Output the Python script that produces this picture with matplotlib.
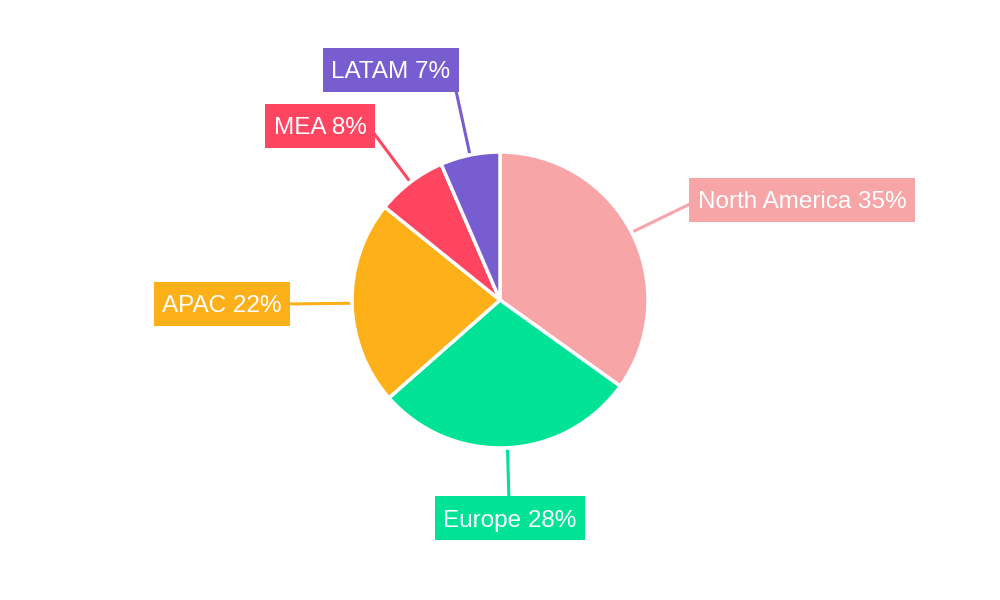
import numpy as np
import matplotlib.pyplot as plt
from matplotlib.path import Path
from matplotlib.transforms import Affine2D

plt.rcParams['font.family'] = ['Liberation Sans', 'DejaVu Sans']

regions = ['North America', 'Europe', 'APAC', 'MEA', 'LATAM']
shares = [34.9, 28.6, 22.3, 7.7, 6.5]      # slice sizes as measured
label_pct = [35, 28, 22, 8, 7]              # percentages printed on labels
colors = ['#F8A5A8', '#00E396', '#FEB019', '#FF4560', '#775DD0']

# label box centres and leader-line end points, in pixels (x, y from top)
label_pos = [(802, 200), (510, 518), (222, 304), (320, 126), (391, 70)]
leader_end = [(694, 202), (509, 502), (284, 304), (370, 128), (455, 86)]

W, H = 1000, 600
cx, cy, r = 500, 300, 148
TEXT_SHIFT = 2.5   # text sits a little below the box centre


def label_box(x0, y0, width, height, mutation_size):
    # fixed-height box (44px) around the text, with side padding
    px = 0.35 * mutation_size
    mid = y0 + height / 2 + TEXT_SHIFT
    return Path.unit_rectangle().transformed(
        Affine2D().scale(width + 2 * px, 44).translate(x0 - px, mid - 22))


fig = plt.figure(figsize=(10, 6), dpi=100)
ax = fig.add_axes([0, 0, 1, 1])

wedges, _ = ax.pie(shares, colors=colors, startangle=90, counterclock=False,
                   center=(cx, H - cy), radius=r,
                   wedgeprops=dict(edgecolor='white', linewidth=2.5))

# pie() resets the limits, so set them afterwards
ax.set_xlim(0, W)
ax.set_ylim(0, H)
ax.set_aspect('equal')
ax.axis('off')

for w, name, p, c, (lx, ly), (ex, ey) in zip(wedges, regions, label_pct, colors,
                                             label_pos, leader_end):
    mid = np.deg2rad((w.theta1 + w.theta2) / 2)
    sx, sy = cx + (r + 2) * np.cos(mid), (H - cy) + (r + 2) * np.sin(mid)
    ax.plot([sx, ex], [sy, H - ey], color=c, lw=2.2, solid_capstyle='butt',
            zorder=2)
    ax.text(lx, H - ly - TEXT_SHIFT, f'{name} {p}%', ha='center', va='center',
            color='white', fontsize=17.5, zorder=4,
            bbox=dict(boxstyle=label_box, fc=c, ec='none'))

fig.savefig('out.png', dpi=100)
